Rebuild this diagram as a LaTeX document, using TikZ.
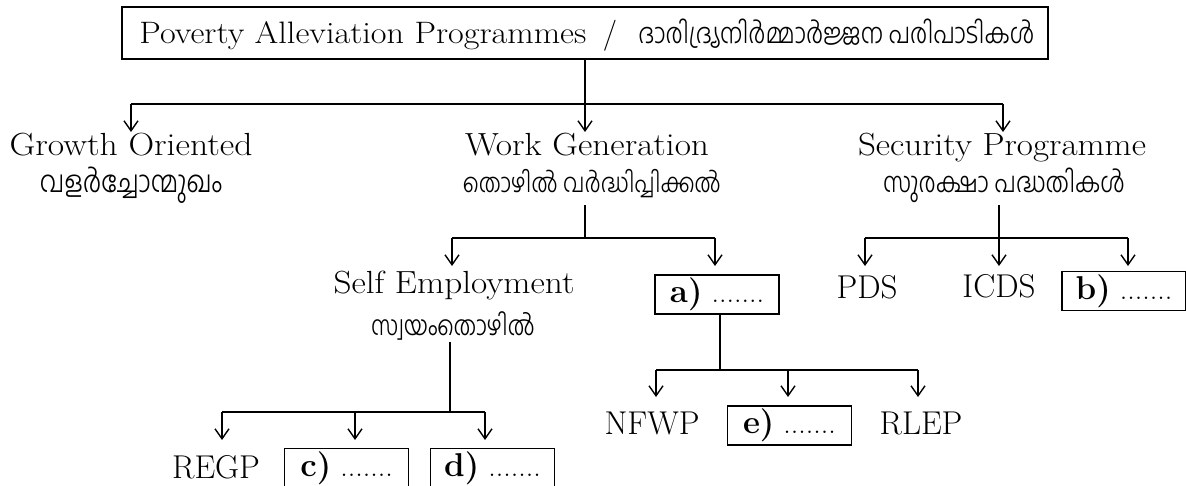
\documentclass[tikz,border=0pt]{standalone}
\usepackage{fontspec}
\usepackage{graphicx}
\newfontfamily\mal[Script=Malayalam, UprightFont=* Light]{Hind Kochi}
\usetikzlibrary{arrows.meta}
\newcommand{\mlw}[2]{\scalebox{1}[1.2]{\resizebox{#1}{!}{\mal\fontsize{12}{14}\selectfont #2}}}
\newcommand{\enw}[2]{\resizebox{#1}{\height}{\fontsize{16}{18}\selectfont #2}}
\newcommand{\lab}[1]{{\bfseries\fontsize{16.5}{18}\selectfont #1}\ .......}
\begin{document}
\begin{tikzpicture}[x=0.5pt,y=-0.5pt,
  line/.style={line width=0.7pt},
  arr/.style={line width=0.7pt,-{Straight Barb[length=5pt,width=7pt]}},
  en/.style={font=\fontsize{16.5}{18}\selectfont, inner sep=0pt, anchor=base},
  ml/.style={inner sep=0pt, anchor=base},
  lbox/.style={draw, line width=0.7pt, minimum width=62pt, minimum height=19.5pt, inner sep=0pt, font=\fontsize{15}{17}\selectfont}]
\useasboundingbox (0,0) rectangle (1186,486);
\clip (0,0) rectangle (1186,486);

% top
\node[draw, line width=0.7pt, minimum width=463pt, minimum height=26pt, inner sep=0pt] (top) at (585,33) {};
\node[inner sep=0pt, anchor=base west] (topen) at (139,44) {\resizebox{223.5pt}{\height}{\fontsize{15.5}{17}\selectfont Poverty Alleviation Programmes}};
\node[inner sep=0pt, anchor=base, font=\fontsize{15.5}{17}\selectfont] (topsl) at (610,44) {/};
\node[inner sep=0pt, anchor=base west] (topml) at (638,44) {\mlw{198pt}{ദാരിദ്ര്യനിർമ്മാർജ്ജന പരിപാടികൾ}};

% level 2
\node[ml] (go) at (131,156) {\enw{121.5pt}{Growth Oriented}};
\node[ml] (gom) at (131,192) {\mlw{91pt}{വളർച്ചോന്മുഖം}};
\node[ml] (wg) at (587,156) {\enw{122pt}{Work Generation}};
\node[ml] (wgm) at (592,192) {\mlw{129pt}{തൊഴിൽ വർദ്ധിപ്പിക്കൽ}};
\node[ml] (sp) at (1002,156) {\enw{144pt}{Security Programme}};
\node[ml] (spm) at (1004,192) {\mlw{121pt}{സുരക്ഷാ പദ്ധതികൾ}};

\coordinate (b1) at (585,104);
\coordinate (b1l) at (131,104);
\coordinate (b1r) at (1003,104);
\coordinate (t1a) at (131,132);
\coordinate (t1b) at (585,132);
\coordinate (t1c) at (1003,132);
\draw[line] (top.south) -- (b1);
\draw[line] (b1l) -- (b1r);
\draw[arr] (b1l) -- (t1a);
\draw[arr] (b1) -- (t1b);
\draw[arr] (b1r) -- (t1c);

% work generation branch
\node[ml] (se) at (454,293) {\enw{120.5pt}{Self Employment}};
\node[ml] (sem) at (453,335) {\mlw{82pt}{സ്വയംതൊഴിൽ}};
\node[lbox] (a) at (717,294.5) {\lab{a)}};
\coordinate (wgs) at (585,205);
\coordinate (b2) at (585,238);
\coordinate (b2l) at (452,238);
\coordinate (b2r) at (715,238);
\coordinate (t2a) at (452,266);
\coordinate (t2b) at (715,266);
\draw[line] (wgs) -- (b2);
\draw[line] (b2l) -- (b2r);
\draw[arr] (b2l) -- (t2a);
\draw[arr] (b2r) -- (t2b);

% security branch
\node[en] (pds) at (867,298) {PDS};
\node[en] (icds) at (999,297) {ICDS};
\node[lbox] (b) at (1124,291) {\lab{b)}};
\coordinate (sps) at (999,205);
\coordinate (b3) at (999,238);
\coordinate (b3l) at (865,238);
\coordinate (b3r) at (1128,238);
\coordinate (t3a) at (865,266);
\coordinate (t3b) at (999,266);
\coordinate (t3c) at (1128,266);
\draw[line] (sps) -- (b3);
\draw[line] (b3l) -- (b3r);
\draw[arr] (b3l) -- (t3a);
\draw[arr] (b3) -- (t3b);
\draw[arr] (b3r) -- (t3c);

% a) branch
\node[en] (nfwp) at (652,434) {NFWP};
\node[lbox] (e) at (789.5,425.5) {\lab{e)}};
\node[en] (rlep) at (921,434) {RLEP};
\coordinate (a4) at (720,370);
\coordinate (b4l) at (656,370);
\coordinate (b4m) at (788,370);
\coordinate (b4r) at (918,370);
\coordinate (t4a) at (656,397);
\coordinate (t4b) at (788,397);
\coordinate (t4c) at (918,397);
\draw[line] ([xshift=1.5pt]a.south) -- (a4);
\draw[line] (b4l) -- (b4r);
\draw[arr] (b4l) -- (t4a);
\draw[arr] (b4m) -- (t4b);
\draw[arr] (b4r) -- (t4c);

% self employment branch
\node[en] (regp) at (216,478) {REGP};
\node[lbox, anchor=north] (c) at (346.5,448) {\lab{c)}};
\node[lbox, anchor=north] (d) at (492.5,448) {\lab{d)}};
\coordinate (ses) at (450,342);
\coordinate (b5) at (450,412);
\coordinate (b5l) at (222,412);
\coordinate (b5m) at (355,412);
\coordinate (b5r) at (485,412);
\coordinate (t5a) at (222,440);
\coordinate (t5b) at (355,440);
\coordinate (t5c) at (485,440);
\draw[line] (ses) -- (b5);
\draw[line] (b5l) -- (b5r);
\draw[arr] (b5l) -- (t5a);
\draw[arr] (b5m) -- (t5b);
\draw[arr] (b5r) -- (t5c);
\end{tikzpicture}
\end{document}
